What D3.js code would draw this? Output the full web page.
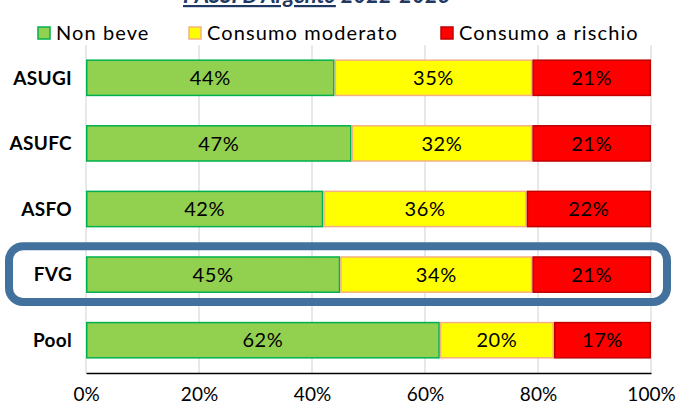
<!DOCTYPE html>
<html lang="it">
<head>
  <meta charset="UTF-8">
  <title>Consumo di alcol</title>
  <script src="https://d3js.org/d3.v7.min.js"></script>
  <style>
    body { margin: 0; background: #fff; }
    text { font-family: Lato, "Open Sans", sans-serif; }
  </style>
</head>
<body>
<svg id="chart" width="678" height="408"></svg>
<script>
  // dati (percentuali)
  var categories = ['ASUGI', 'ASUFC', 'ASFO', 'FVG', 'Pool']
  var seriesNames = ['Non beve', 'Consumo moderato', 'Consumo a rischio']
  var nonBeve = [44, 47, 42, 45, 62]
  var moderato = [35, 32, 36, 34, 20]
  var rischio = [21, 21, 22, 21, 17]
  var tickLabels = ['0%', '20%', '40%', '60%', '80%', '100%']
  var highlighted = 'FVG'

  var fills = ['#92D050', '#FFFF00', '#FF0000']
  var strokes = ['#00B050', '#F4B183', '#C00000']

  var rows = categories.map(function (c, i) {
    return { cat: c, 'Non beve': nonBeve[i], 'Consumo moderato': moderato[i], 'Consumo a rischio': rischio[i] }
  })

  var svg = d3.select('#chart')
  var plotLeft = 86, plotRight = 651, plotTop = 45, plotBottom = 373

  var x = d3.scaleLinear().domain([0, 1]).range([plotLeft, plotRight])
  var y = d3.scaleBand().domain(categories).range([plotTop, plotBottom]).paddingInner(0.44).paddingOuter(0.22)

  // titolo (tagliato in alto come nell'originale)
  var title = svg.append('text')
    .attr('x', 183).attr('y', 3)
    .attr('font-size', 22).attr('font-weight', 'bold').attr('font-style', 'italic')
    .attr('fill', '#1F3864')
  title.append('tspan').attr('text-decoration', 'underline').text("PASSI D'Argento")
  title.append('tspan').text(' 2022-2023')

  // griglia
  svg.append('g')
    .selectAll('line')
    .data(x.ticks(5))
    .enter()
    .append('line')
    .attr('x1', function (d) { return x(d) }).attr('x2', function (d) { return x(d) })
    .attr('y1', plotTop).attr('y2', plotBottom)
    .attr('stroke', '#D9D9D9').attr('stroke-width', 1.2)

  // barre 100% in pila
  var stacked = d3.stack().keys(seriesNames).offset(d3.stackOffsetExpand)(rows)

  stacked.forEach(function (layer, k) {
    var g = svg.append('g')
    g.selectAll('rect')
      .data(layer)
      .enter()
      .append('rect')
      .attr('x', function (d) { return x(d[0]) + 0.75 })
      .attr('y', function (d) { return y(d.data.cat) + 0.75 })
      .attr('width', function (d) { return x(d[1]) - x(d[0]) - 1.5 })
      .attr('height', y.bandwidth() - 1.5)
      .attr('fill', fills[k])
      .attr('stroke', strokes[k]).attr('stroke-width', 1.5)

    g.selectAll('text')
      .data(layer)
      .enter()
      .append('text')
      .attr('x', function (d) { return (x(d[0]) + x(d[1])) / 2 })
      .attr('y', function (d) { return y(d.data.cat) + y.bandwidth() / 2 })
      .attr('dy', '0.36em')
      .attr('text-anchor', 'middle')
      .attr('font-size', 20).attr('letter-spacing', 0.6).attr('fill', '#000')
      .text(function (d) { return d.data[layer.key] + '%' })
  })

  // asse x
  var xAxis = d3.axisBottom(x).tickValues(x.ticks(5)).tickSize(0).tickPadding(15)
    .tickFormat(function (d, i) { return tickLabels[i] })
  var gx = svg.append('g').attr('transform', 'translate(0,' + plotBottom + ')').call(xAxis)
  gx.select('.domain').attr('stroke', '#000').attr('stroke-width', 1.5)
  gx.selectAll('text').attr('font-size', 19).attr('fill', '#000').attr('font-family', 'Lato, sans-serif')

  // etichette categorie
  svg.append('g')
    .selectAll('text')
    .data(categories)
    .enter()
    .append('text')
    .attr('x', 72)
    .attr('y', function (d) { return y(d) + y.bandwidth() / 2 })
    .attr('dy', '0.36em')
    .attr('text-anchor', 'end')
    .attr('font-size', 19).attr('letter-spacing', 0.3).attr('font-weight', 'bold').attr('fill', '#000')
    .text(function (d) { return d })

  // riquadro evidenziato
  svg.append('rect')
    .attr('x', 9).attr('y', y(highlighted) - 10)
    .attr('width', 658).attr('height', y.bandwidth() + 19)
    .attr('rx', 14).attr('ry', 14)
    .attr('fill', 'none')
    .attr('stroke', '#41719C').attr('stroke-width', 8)

  // legenda
  var legendX = [37, 188, 440]
  var legend = svg.append('g')
  seriesNames.forEach(function (name, k) {
    legend.append('rect')
      .attr('x', legendX[k] + 1).attr('y', 27)
      .attr('width', 12).attr('height', 12)
      .attr('fill', fills[k]).attr('stroke', strokes[k]).attr('stroke-width', 1.5)
    legend.append('text')
      .attr('x', legendX[k] + 19).attr('y', 33)
      .attr('dy', '0.36em')
      .attr('font-size', 20).attr('letter-spacing', 1.1).attr('fill', '#000')
      .text(name)
  })
</script>
</body>
</html>
